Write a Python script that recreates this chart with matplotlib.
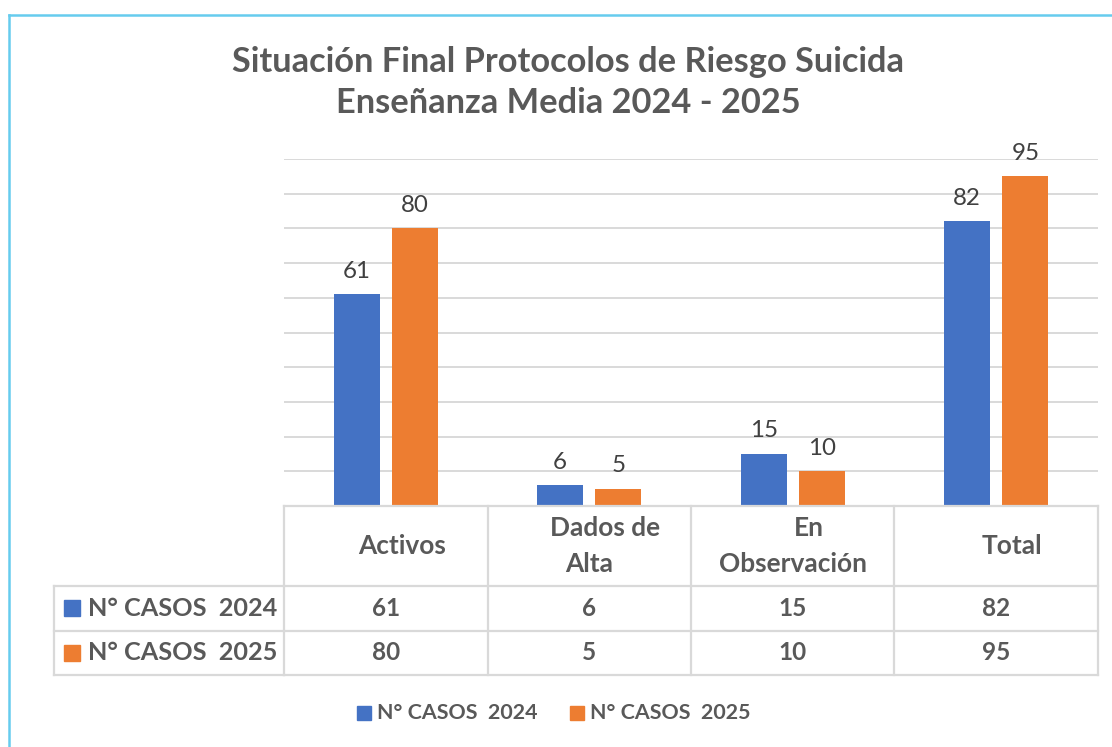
import matplotlib
matplotlib.use("Agg")
import matplotlib.pyplot as plt
import numpy as np
from matplotlib.transforms import blended_transform_factory, ScaledTranslation
from matplotlib.patches import Rectangle
from matplotlib.lines import Line2D

# ---------------- data ----------------
categories = ["Activos", "Dados de\nAlta", "En\nObservación", "Total"]
series_names = ["N° CASOS  2024", "N° CASOS  2025"]
casos_2024 = [61, 6, 15, 82]
casos_2025 = [80, 5, 10, 95]
title_lines = ["Situación Final Protocolos de Riesgo Suicida",
               "Enseñanza Media 2024 - 2025"]
y_ticks = list(range(0, 101, 10))

# ---------------- style ----------------
plt.rcParams['font.family'] = ['Lato', 'DejaVu Sans']
colors = ["#4472C4", "#ED7D31"]
grid_c = "#D9D9D9"
text_c = "#595959"
label_c = "#404040"

W, H = 1112, 747
fig = plt.figure(figsize=(W / 100, H / 100), dpi=100)
renderer = fig.canvas.get_renderer()


def fx(px):
    return px / W


def fy(py):
    return 1 - py / H


def size_for(text, target_px, weight="normal"):
    t = fig.text(0, 0, text, fontsize=20, fontweight=weight)
    w = t.get_window_extent(renderer).width
    t.remove()
    return 20 * target_px / w


# outer border (light blue)
fig.add_artist(Line2D([fx(8.5), fx(8.5)], [fy(14.5), fy(760)], color="#66CCEE", lw=1.8,
                      transform=fig.transFigure))
fig.add_artist(Line2D([fx(8.5), fx(1120)], [fy(14.5), fy(14.5)], color="#66CCEE", lw=1.8,
                      transform=fig.transFigure))

# ---------------- axes ----------------
ax = fig.add_axes([fx(284), fy(506), fx(1098) - fx(284), fy(159) - fy(506)])
x = np.arange(len(categories))
bw = 0.226
off = 0.143
b1 = ax.bar(x - off, casos_2024, width=bw, color=colors[0], zorder=3)
b2 = ax.bar(x + off, casos_2025, width=bw, color=colors[1], zorder=3)
ax.set_xlim(-0.5, len(categories) - 0.5)
ax.set_ylim(0, 100)
ax.set_yticks(y_ticks)
ax.yaxis.grid(True, color=grid_c, lw=1.4)
ax.set_axisbelow(True)
ax.tick_params(left=False, bottom=False, labelleft=False, labelbottom=False)
for s in ax.spines.values():
    s.set_visible(False)

lbl_size = size_for("80", 28)
ax.bar_label(b1, padding=9, fontsize=lbl_size, color=label_c)
ax.bar_label(b2, padding=9, fontsize=lbl_size, color=label_c)

# ---------------- title ----------------
t1_size = size_for(title_lines[0], 673, "bold")
fig.text(fx(567.5), fy(62), title_lines[0], fontsize=t1_size, fontweight="bold",
         color=text_c, ha="center", va="center")
fig.text(fx(568), fy(103), title_lines[1], fontsize=t1_size, fontweight="bold",
         color=text_c, ha="center", va="center")

# ---------------- data table ----------------
trans = blended_transform_factory(ax.transData, fig.transFigure)
tl = dict(color=grid_c, lw=1.6, solid_capstyle="projecting")
y_top, y_r1, y_r2, y_bot = 506, 586, 630.5, 675
x_left = -0.5
x_right = len(categories) - 0.5
# horizontal lines
fig.add_artist(Line2D([x_left, x_right], [fy(y_top)] * 2, transform=trans, **tl))
for yy in (y_r1, y_r2, y_bot):
    fig.add_artist(Line2D([fx(54), fx(284)], [fy(yy)] * 2, transform=fig.transFigure, **tl))
    fig.add_artist(Line2D([x_left, x_right], [fy(yy)] * 2, transform=trans, **tl))
# vertical lines
for xv in np.arange(-0.5, len(categories), 1.0):
    fig.add_artist(Line2D([xv, xv], [fy(y_top), fy(y_bot)], transform=trans, **tl))
fig.add_artist(Line2D([fx(54), fx(54)], [fy(y_r1), fy(y_bot)], transform=fig.transFigure, **tl))

hdr_size = size_for("Activos", 88, "bold")
shift = ScaledTranslation(16 / 100, 0, fig.dpi_scale_trans)
for i, cat in enumerate(categories):
    lines = cat.split("\n")
    n = len(lines)
    for j, ln in enumerate(lines):
        yy = 546 + (j - (n - 1) / 2) * 35
        tr = trans + shift if j == 0 else trans
        fig.text(i, fy(yy), ln, transform=tr, fontsize=hdr_size, fontweight="bold",
                 color=text_c, ha="center", va="center")

val_size = size_for("61", 28, "bold")
row_centers = [(y_r1 + y_r2) / 2, (y_r2 + y_bot) / 2]
for r, vals in enumerate([casos_2024, casos_2025]):
    for i, v in enumerate(vals):
        fig.text(i, fy(row_centers[r]), str(v), transform=trans, fontsize=val_size,
                 fontweight="bold", color=text_c, ha="center", va="center")

row_lbl_size = size_for(series_names[0], 189, "bold")
for r, name in enumerate(series_names):
    yc = row_centers[r]
    fig.add_artist(Rectangle((fx(64), fy(yc + 8)), fx(16), 16 / H, color=colors[r],
                             transform=fig.transFigure))
    fig.text(fx(88), fy(yc), name, fontsize=row_lbl_size, fontweight="bold",
             color=text_c, ha="left", va="center")

# ---------------- legend ----------------
leg_size = size_for(series_names[0], 160, "bold")
leg_y = 713
for r, (sx, tx) in enumerate([(357, 377), (570, 590)]):
    fig.add_artist(Rectangle((fx(sx), fy(leg_y + 7)), fx(14), 14 / H, color=colors[r],
                             transform=fig.transFigure))
    fig.text(fx(tx), fy(leg_y), series_names[r], fontsize=leg_size, fontweight="bold",
             color=text_c, ha="left", va="center")

fig.savefig("out.png", dpi=100)
